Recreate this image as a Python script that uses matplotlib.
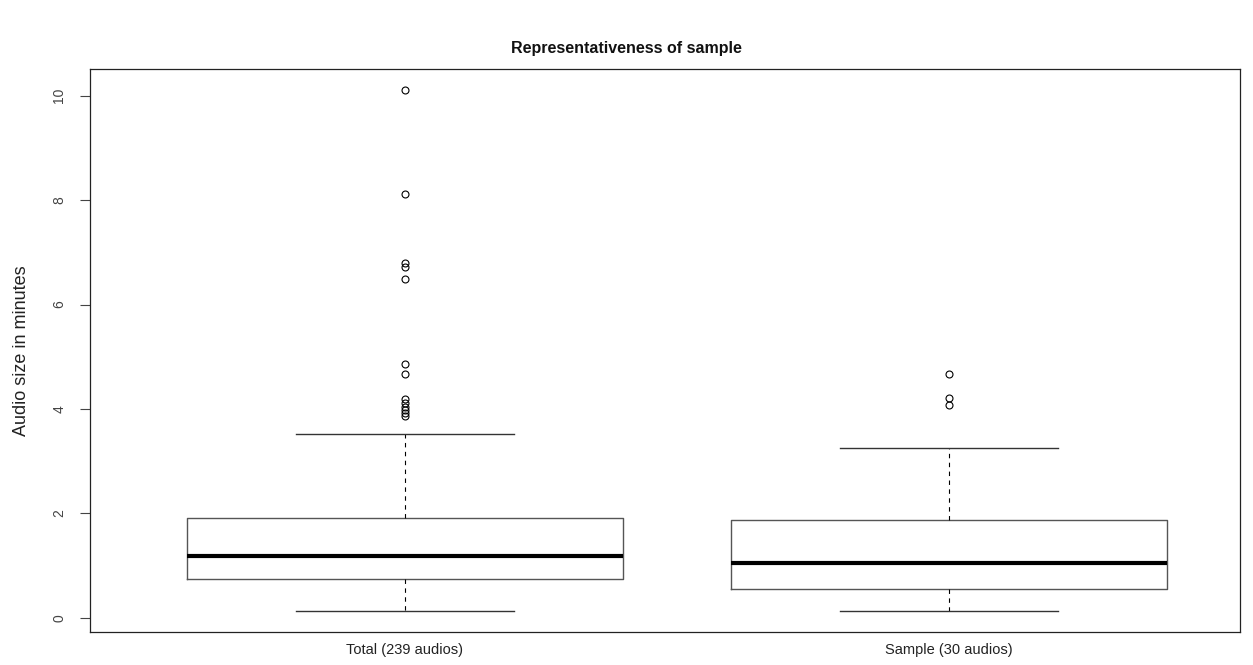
import matplotlib
matplotlib.use("Agg")
import matplotlib.pyplot as plt

plt.rcParams["font.family"] = ["Liberation Sans", "DejaVu Sans"]

# Data
categories = ["Total (239 audios)", "Sample (30 audios)"]
whisker_low = [0.14, 0.14]
q1 = [0.75, 0.56]
medians = [1.19, 1.05]
q3 = [1.92, 1.88]
whisker_high = [3.53, 3.26]
outliers_total = [10.11, 8.12, 6.80, 6.72, 6.49, 4.87, 4.67, 4.20, 4.12, 4.04, 3.98, 3.93, 3.86]
outliers_sample = [4.67, 4.22, 4.07]
outliers = [outliers_total, outliers_sample]

stats = []
for i, name in enumerate(categories):
    stats.append(dict(label=name, whislo=whisker_low[i], q1=q1[i], med=medians[i],
                      q3=q3[i], whishi=whisker_high[i], fliers=outliers[i]))

fig = plt.figure(figsize=(12.53, 6.65), dpi=100)
ax = fig.add_axes([90/1253, 33/665, 1150/1253, 563/665])

ax.bxp(stats, positions=[1, 2], widths=0.8, showfliers=True,
       boxprops=dict(color="#555555", linewidth=1.0),
       medianprops=dict(color="black", linewidth=3.0, solid_capstyle="butt"),
       whiskerprops=dict(color="black", linewidth=0.8, linestyle=(0, (4, 4))),
       capprops=dict(color="#333333", linewidth=1.0),
       capwidths=0.4,
       flierprops=dict(marker="o", markerfacecolor="none", markeredgecolor="black",
                       markersize=5, markeredgewidth=0.8, linestyle="none"))

ax.set_xlim(0.421, 2.535)
ax.set_ylim(-0.27, 10.51)
ax.set_yticks([0, 2, 4, 6, 8, 10])
ax.set_yticklabels(["0", "2", "4", "6", "8", "10"], rotation=90, va="center",
                   color="#444444", fontsize=10)
ax.tick_params(axis="y", length=7, width=0.8, color="#444444", pad=10)
ax.set_xticks([1, 2])
ax.set_xticklabels(categories, fontsize=10.5, color="#222222")
ax.tick_params(axis="x", length=0, pad=8)

for s in ax.spines.values():
    s.set_linewidth(0.9)
    s.set_color("#222222")

ax.set_ylabel("Audio size in minutes", fontsize=13, color="#222222", labelpad=16)
fig.text(0.5, 1 - 48/665, "Representativeness of sample", ha="center", va="center",
         fontsize=11.5, fontweight="bold", color="#111111")

fig.savefig("out.png", dpi=100)
